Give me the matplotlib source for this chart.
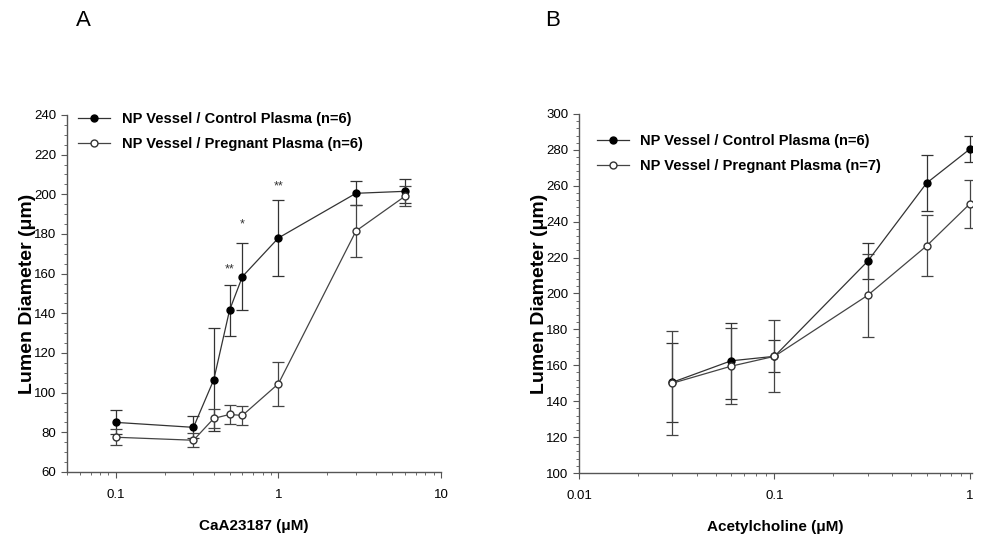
import matplotlib.pyplot as plt
from matplotlib.ticker import AutoMinorLocator, FixedLocator, FixedFormatter, LogLocator, NullFormatter

# Panel A: CaA23187
ca_dose = [0.1, 0.3, 0.4, 0.5, 0.6, 1, 3, 6]
ca_ctrl = [85, 82.5, 106.5, 141.5, 158.5, 178, 200.5, 201.5]
ca_ctrl_err = [6, 5.5, 26, 13, 17, 19, 6, 6]
ca_preg = [77.5, 76, 87, 89, 88.5, 104.5, 181.5, 199]
ca_preg_err = [4, 3.5, 5, 5, 5, 11, 13, 5]
ca_stars = [(0.5, "**", 159), (0.6, "*", 182), (1, "**", 201)]

# Panel B: Acetylcholine
ach_dose = [0.03, 0.06, 0.1, 0.3, 0.6, 1]
ach_ctrl = [150.5, 162.5, 165, 218, 261.5, 280.5]
ach_ctrl_err = [22, 21, 9, 10, 15.5, 7.5]
ach_preg = [150, 159.5, 165, 199, 226.5, 250]
ach_preg_err = [29, 21, 20, 23, 17, 13.5]

plt.rcParams['font.family'] = ['Liberation Sans', 'DejaVu Sans']
gray = '#555555'

fig = plt.figure(figsize=(9.81, 5.42), dpi=100)
axA = fig.add_axes([0.0683, 0.1292, 0.3812, 0.6587])
axB = fig.add_axes([0.5902, 0.1273, 0.4006, 0.6624])


def draw(ax, x, y1, e1, y2, e2, lab1, lab2):
    c1 = ax.errorbar(x, y1, yerr=e1, fmt='-o', color='#333333', mfc='black', mec='black',
                     ms=5, lw=0.9, elinewidth=0.9, capsize=4, capthick=0.9, zorder=3)
    c2 = ax.errorbar(x, y2, yerr=e2, fmt='-o', color='#444444', mfc='white', mec='#333333',
                     ms=5, lw=0.9, elinewidth=0.9, capsize=4, capthick=0.9, zorder=3)
    ax.set_xscale('log')
    for s in ['top', 'right']:
        ax.spines[s].set_visible(False)
    for s in ['left', 'bottom']:
        ax.spines[s].set_color(gray)
        ax.spines[s].set_linewidth(1.0)
    ax.tick_params(which='both', direction='out', color=gray, labelsize=9.5)
    ax.tick_params(which='major', length=4)
    ax.tick_params(which='minor', length=2.5)
    ax.tick_params(axis='x', pad=8)
    ax.xaxis.set_minor_locator(LogLocator(base=10, subs=range(2, 10)))
    ax.xaxis.set_minor_formatter(NullFormatter())
    ax.set_ylabel("Lumen Diameter (\u03bcm)", fontsize=14, fontweight='bold', labelpad=-1)
    return [c1[0], c2[0]], [lab1, lab2]


hA, lA = draw(axA, ca_dose, ca_ctrl, ca_ctrl_err, ca_preg, ca_preg_err,
              "NP Vessel / Control Plasma (n=6)", "NP Vessel / Pregnant Plasma (n=6)")
axA.set_xlim(0.05, 10)
axA.set_ylim(60, 240)
axA.set_yticks(range(60, 241, 20))
axA.yaxis.set_minor_locator(AutoMinorLocator(4))
axA.xaxis.set_major_locator(FixedLocator([0.1, 1, 10]))
axA.xaxis.set_major_formatter(FixedFormatter(["0.1", "1", "10"]))
axA.set_xlabel("CaA23187 (\u03bcM)", fontsize=11, fontweight='bold', labelpad=13)
for xs, s, ys in ca_stars:
    axA.text(xs, ys, s, ha='center', va='bottom', fontsize=9, color='#333333')
axA.legend(hA, lA, loc='upper left', bbox_to_anchor=(0.03, 1.008), frameon=False,
           handlelength=2.2, handletextpad=0.8, labelspacing=0.75, borderpad=0, borderaxespad=0,
           prop={'weight': 'bold', 'size': 10.5})

hB, lB = draw(axB, ach_dose, ach_ctrl, ach_ctrl_err, ach_preg, ach_preg_err,
              "NP Vessel / Control Plasma (n=6)", "NP Vessel / Pregnant Plasma (n=7)")
axB.set_xlim(0.01, 1.024)
axB.set_ylim(100, 300)
axB.set_yticks(range(100, 301, 20))
axB.yaxis.set_minor_locator(AutoMinorLocator(5))
axB.xaxis.set_major_locator(FixedLocator([0.01, 0.1, 1]))
axB.xaxis.set_major_formatter(FixedFormatter(["0.01", "0.1", "1"]))
axB.set_xlabel("Acetylcholine (\u03bcM)", fontsize=11, fontweight='bold', labelpad=13)
axB.legend(hB, lB, loc='upper left', bbox_to_anchor=(0.045, 0.944), frameon=False,
           handlelength=2.2, handletextpad=0.8, labelspacing=0.75, borderpad=0, borderaxespad=0,
           prop={'weight': 'bold', 'size': 10.5})

fig.text(76 / 981, 1 - 21 / 542, "A", fontsize=16, ha='left', va='center')
fig.text(545 / 981, 1 - 20 / 542, "B", fontsize=16, ha='left', va='center')

fig.savefig("out.png", dpi=100)
